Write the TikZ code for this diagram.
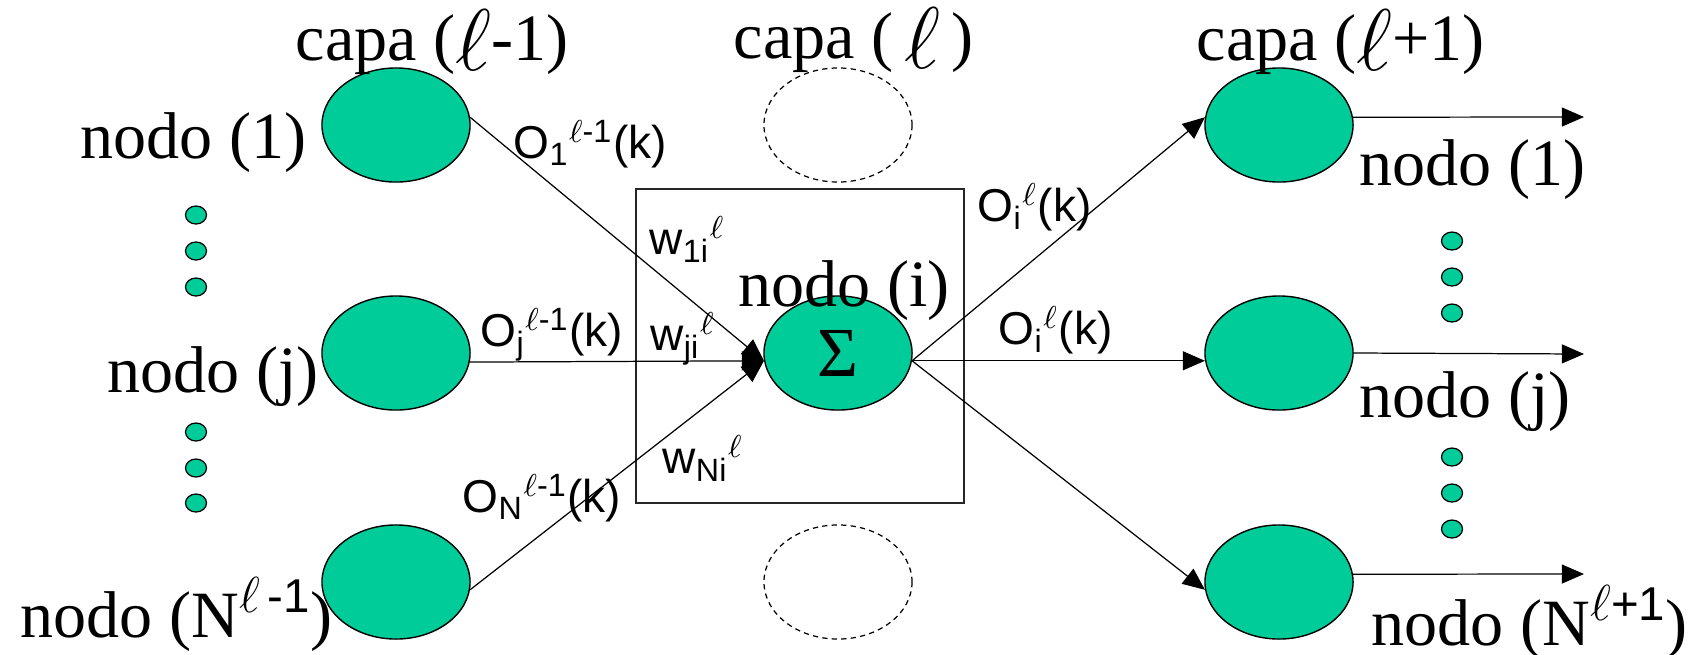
\documentclass[tikz,border=0pt]{standalone}
\usepackage{fontspec}
\setmainfont{Liberation Serif}
\newfontfamily\lsans{Liberation Sans}
\usetikzlibrary{shapes.geometric,arrows.meta}
\definecolor{nodegreen}{RGB}{0,204,153}
\newcommand{\bigell}{\raisebox{-0.1cm}{\fontsize{24.88}{24.88}\selectfont$\ell$}}
\newcommand{\supell}[1]{\raisebox{0.25cm}{\fontsize{13.5}{13.5}\selectfont$\ell$#1}}
\begin{document}
\begin{tikzpicture}[x=0.01cm,y=-0.01cm,
 bignode/.style={ellipse, draw=black, fill=nodegreen, line width=0.4pt, minimum width=1.48cm, minimum height=1.14cm, inner sep=0pt},
 ghost/.style={ellipse, draw=black, dash pattern=on 1.5pt off 1.2pt, line width=0.35pt, minimum width=1.48cm, minimum height=1.14cm, inner sep=0pt},
 smalldot/.style={ellipse, draw=black, fill=nodegreen, line width=0.35pt, minimum width=0.21cm, minimum height=0.18cm, inner sep=0pt},
 serif/.style={font=\fontsize{18.8}{20}\selectfont, inner sep=0pt, anchor=base west},
 lab/.style={font=\lsans\fontsize{13.1}{14}\selectfont, inner sep=0pt, anchor=base west},
 conn/.style={line width=0.35pt, -{Triangle[length=6.3pt,width=5.4pt]}},
 frame/.style={draw=black!85, line width=0.4pt, minimum width=3.28cm, minimum height=3.14cm, inner sep=0pt}]
\useasboundingbox (0,0) rectangle (1691,654);

% box around layer l node
\node[frame] (box) at (800,346) {};

% ghost nodes of layer l
\node[ghost] (T) at (838,125) {};
\node[ghost] (B) at (838,582) {};

% layer l-1
\node[bignode] (L1) at (396,125) {};
\node[bignode] (Lj) at (396,353) {};
\node[bignode] (LN) at (396,582) {};
% layer l
\node[bignode, font=\fontsize{20}{20}\selectfont] (C) at (838,353) {Σ\hspace{0.12cm}};
% layer l+1
\node[bignode] (R1) at (1279,125) {};
\node[bignode] (Rj) at (1279,353) {};
\node[bignode] (RN) at (1279,582) {};

% dots
\foreach \i/\yy in {a/215,b/251,c/287,d/432,e/468,f/503}
  \node[smalldot] (ld\i) at (196,\yy) {};
\foreach \i/\yy in {a/241,b/277,c/313,d/457,e/493,f/529}
  \node[smalldot] (rd\i) at (1452,\yy) {};

% free ends of output arrows
\coordinate (o1) at (1584,117);
\coordinate (oj) at (1584,354);
\coordinate (oN) at (1584,574);

% connectors
\draw[conn] (L1.6) -- (C.186);
\draw[conn] (Lj.-7) -- (C.186);
\draw[conn] (LN.-6) -- (C.186);
\draw[conn] (C.-6) -- (R1.174);
\draw[conn] (C.-6) -- (Rj.186);
\draw[conn] (C.-6) -- (RN.186);
\draw[conn] (R1.6) -- (o1);
\draw[conn] (Rj.east) -- (oj);
\draw[conn] (RN.6) -- (oN);

% layer titles
\node[serif] (t1) at (295,60) {capa (\bigell-1)};
\node[serif] (t2) at (733,58) {capa (\,\bigell\,)};
\node[serif] (t3) at (1196,60) {capa (\bigell+1)};

% node names
\node[serif] (n1) at (80,158) {nodo (1)};
\node[serif] (nj) at (107,392) {nodo (j)};
\node[serif] (nN) at (20,637) {nodo (N\supell{\,\lsans -1})};
\node[serif] (ni) at (738,306) {nodo (i)};
\node[serif] (m1) at (1359,185) {nodo (1)};
\node[serif] (mj) at (1359,417) {nodo (j)};
\node[serif] (mN) at (1371,645) {nodo (N\supell{\lsans +1})};

% signal labels
\node[lab] (s1) at (513,158) {O\textsubscript{1}\textsuperscript{$\ell$-1}(k)};
\node[lab] (sj) at (480,346) {O\textsubscript{j}\textsuperscript{$\ell$-1}(k)};
\node[lab] (sN) at (462,512) {O\textsubscript{N}\textsuperscript{$\ell$-1}(k)};
\node[lab] (w1) at (649,254) {w\textsubscript{1i}\textsuperscript{$\ell$}};
\node[lab] (wj) at (650,350) {w\textsubscript{ji}\textsuperscript{$\ell$}};
\node[lab] (wN) at (662,473) {w\textsubscript{Ni}\textsuperscript{$\ell$}};
\node[lab] (u1) at (977,221) {O\textsubscript{i}\textsuperscript{$\ell$}(k)};
\node[lab] (u2) at (998,344) {O\textsubscript{i}\textsuperscript{$\ell$}(k)};
\end{tikzpicture}
\end{document}
